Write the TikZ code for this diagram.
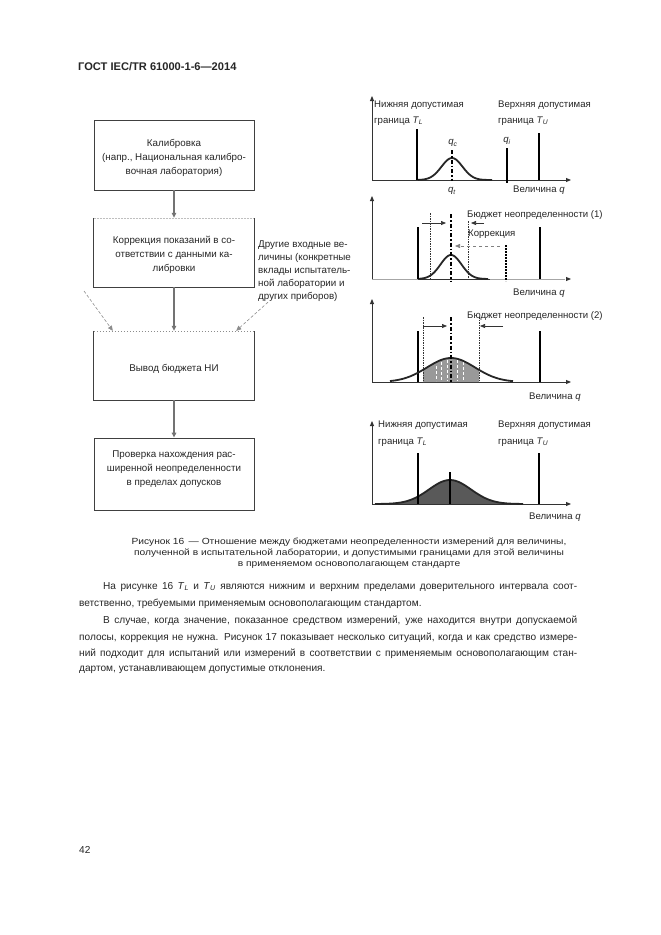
\documentclass[tikz,border=0pt]{standalone}
\usepackage{fontspec}
\setmainfont{Liberation Sans}
\newfontfamily\capfont[FakeStretch=1.15]{Liberation Sans}
\usetikzlibrary{arrows.meta}
\newcommand{\subit}[2]{\textit{#1}\textsubscript{\textit{#2}}}
\begin{document}
\begin{tikzpicture}[x=1pt,y=-1pt,
  box/.style={draw=black!75, line width=0.8pt, minimum width=160pt, inner sep=0pt},
  flowtxt/.style={font=\fontsize{9.8}{13.8}\selectfont, align=center, text=black!85, inner sep=0pt},
  sidetxt/.style={font=\fontsize{9.8}{13}\selectfont, align=left, text=black!85, inner sep=0pt, anchor=north west},
  garr/.style={draw=black!55, line width=1.3pt, -{Triangle[length=5pt,width=4.5pt]}},
  darr/.style={draw=black!45, line width=0.6pt, densely dashed, -{Triangle[length=5pt,width=4.5pt]}},
  glab/.style={font=\fontsize{9.6}{10}\selectfont, text=black!85, inner sep=0pt, anchor=west},
  axis/.style={draw=black!80, line width=0.9pt, -{Triangle[length=5pt,width=4pt]}},
  tol/.style={draw=black, line width=2pt},
  curve/.style={draw=black!85, line width=1.8pt},
  center/.style={draw=black, line width=1.6pt, dash pattern=on 4pt off 2pt on 1.5pt off 2pt},
  bound/.style={draw=black!80, line width=1pt, dash pattern=on 1.5pt off 1pt},
  barr/.style={draw=black!80, line width=0.7pt, -{Triangle[length=5pt,width=4pt]}},
  bodytxt/.style={font=\fontsize{10.1}{12}\selectfont, text=black!85, inner sep=0pt, anchor=west},
  captxt/.style={font=\capfont\fontsize{8.9}{10}\selectfont, text=black!85, inner sep=0pt}
]
\useasboundingbox[fill=white] (0,0) rectangle (661,935);

% header
\node[font=\bfseries\fontsize{11.1}{12}\selectfont, inner sep=0pt, anchor=west, text=black!85] (hdr) at (78,67) {ГОСТ IEC/TR 61000-1-6—2014};

% ---------------- flowchart ----------------
\node[box, minimum height=70pt] (b1) at (174,155) {};
\node[flowtxt] (t1) at (174,158) {Калибровка\\(напр., Национальная калибро-\\вочная лаборатория)};

\node[inner sep=0pt, minimum width=160pt, minimum height=69pt] (b2) at (174,252.5) {};
\draw[draw=black!75, line width=0.8pt] (b2.north west) -- (b2.south west) -- (b2.south east) -- (b2.north east);
\draw[draw=black!25, line width=0.5pt, densely dotted] (b2.north west) -- (b2.north east);
\node[flowtxt] (t2) at (174,255) {Коррекция показаний в со-\\ответствии с данными ка-\\либровки};

\node[inner sep=0pt, minimum width=160pt, minimum height=69pt] (b3) at (174,365.5) {};
\draw[draw=black!75, line width=0.8pt] (b3.north west) -- (b3.south west) -- (b3.south east) -- (b3.north east);
\draw[draw=black!45, line width=0.6pt, dash pattern=on 1pt off 2pt] (b3.north west) -- (b3.north east);
\node[flowtxt] (t3) at (174,369) {Вывод бюджета НИ};

\node[box, minimum height=72pt] (b4) at (174,474) {};
\node[flowtxt] (t4) at (174,469) {Проверка нахождения  рас-\\ширенной неопределенности\\в пределах допусков};

\node[sidetxt] (oth) at (258,241) {Другие входные ве-\\личины (конкретные\\вклады испытатель-\\ной лаборатории и\\других приборов)};

\draw[garr] (b1) -- (b2);
\draw[garr] (b2) -- (b3);
\draw[garr] (b3) -- (b4);
\coordinate (lin) at (84,291);
\draw[darr] (lin) -- ([xshift=19pt]b3.north west);
\draw[darr] ([xshift=10pt]oth.south west) -- ([xshift=-18pt]b3.north east);

% ---------------- graph 1 ----------------
\draw[axis] (372,180) -- (372,96);
\draw[axis] (372,180) -- (571,180);
\node[glab] (g1a) at (374,105) {Нижняя допустимая};
\node[glab] (g1b) at (374,121) {граница \subit{T}{L}};
\node[glab] (g1c) at (498,105) {Верхняя допустимая};
\node[glab] (g1d) at (498,121) {граница \subit{T}{U}};
\draw[tol] (417,129) -- (417,180);
\draw[tol] (539,133) -- (539,180);
\draw[draw=black, line width=1.6pt] (507,148) -- (507,183);
\node[glab, anchor=center] (g1qi) at (507,141) {\subit{q}{i}};
\node[glab, anchor=center] (g1qc) at (453,143) {\subit{q}{c}};
\node[glab, anchor=center] (g1qt) at (452,191) {\subit{q}{t}};
\draw[curve] plot[domain=418:492, samples=70] (\x, {180-22*exp(-((\x-452)/10.5)^2/2)});
\draw[center] (452,150) -- (452,181);
\node[glab] (g1q) at (513,190) {Величина \textit{q}};

% ---------------- graph 2 ----------------
\draw[axis] (372,279) -- (372,196);
\draw[draw=black!35, line width=0.5pt] (372,279) -- (565,279);
\draw[draw=black!80, line width=0.9pt] (418,279) -- (490,279);
\draw[draw=black!80, line width=0.9pt, -{Triangle[length=5pt,width=4pt]}] (566,279) -- (571,279);
\draw[tol] (418,227) -- (418,279);
\draw[tol] (540,227) -- (540,279);
\draw[curve] plot[domain=419:488, samples=70] (\x, {279-24*exp(-((\x-451)/10.5)^2/2)});
\draw[draw=black, line width=1.8pt, dash pattern=on 2pt off 1pt] (506,245) -- (506,281);
\draw[bound] (430,213) -- (430,279);
\draw[bound, line width=0.7pt] (468,221) -- (468,279);
\draw[center] (451,214) -- (451,281);
\draw[barr] (422,223) -- (446,223);
\draw[barr] (484,223) -- (471,223);
\node[glab] (g2a) at (467,215) {Бюджет неопределенности (1)};
\node[glab] (g2b) at (468,234) {Коррекция};
\draw[draw=black!50, line width=0.6pt, dashed, -{Triangle[length=5pt,width=4pt]}] (500,246) -- (455,246);
\node[glab] (g2q) at (513,293) {Величина \textit{q}};

% ---------------- graph 3 ----------------
\draw[axis] (372,382) -- (372,299);
\draw[axis] (372,382) -- (571,382);
\fill[black!40] (423,382) -- plot[domain=423:479, samples=50] (\x, {382-24*exp(-((\x-451)/24)^2/2)}) -- (479,382) -- cycle;
\draw[draw=white, line width=0.4pt, densely dashed] (436,366) -- (436,381) (441,362) -- (441,381) (447,360) -- (447,381) (457,360) -- (457,381) (463,362) -- (463,381);
\draw[tol] (418,331) -- (418,382);
\draw[tol] (540,331) -- (540,382);
\draw[curve] plot[domain=390:513, samples=80] (\x, {382-24*exp(-((\x-451)/24)^2/2)});
\draw[bound] (423,317) -- (423,382);
\draw[bound] (479,317) -- (479,382);
\draw[center] (451,317) -- (451,383);
\draw[barr] (423,326) -- (447,326);
\draw[barr] (503,326) -- (480,326);
\node[glab] (g3a) at (467,316) {Бюджет неопределенности (2)};
\node[glab] (g3q) at (529,397) {Величина \textit{q}};

% ---------------- graph 4 ----------------
\draw[axis] (372,504) -- (372,421);
\draw[axis] (372,504) -- (571,504);
\fill[black!65] plot[domain=375:523, samples=90] (\x, {504-24*exp(-((\x-450)/21)^2/2)}) -- cycle;
\draw[curve] plot[domain=375:523, samples=90] (\x, {504-24*exp(-((\x-450)/21)^2/2)});
\draw[tol] (418,453) -- (418,504);
\draw[tol] (539,453) -- (539,504);
\draw[draw=black, line width=2pt] (450,472) -- (450,504);
\node[glab] (g4a) at (378,425) {Нижняя допустимая};
\node[glab] (g4b) at (378,442) {граница \subit{T}{L}};
\node[glab] (g4c) at (498,425) {Верхняя допустимая};
\node[glab] (g4d) at (498,442) {граница \subit{T}{U}};
\node[glab] (g4q) at (529,517) {Величина \textit{q}};

% ---------------- caption ----------------
\node[captxt] (cap1) at (349,542) {Рисунок 16 \,— Отношение между бюджетами неопределенности измерений для величины,};
\node[captxt] (cap2) at (349,553.5) {полученной в испытательной лаборатории, и допустимыми границами для этой величины};
\node[captxt] (cap3) at (349,565) {в применяемом основополагающем стандарте};

% ---------------- body text ----------------
\node[bodytxt] (p1) at (103,587) {\makebox[474pt][s]{На рисунке 16 \subit{T}{L} и \subit{T}{U} являются нижним и верхним пределами доверительного интервала соот-}};
\node[bodytxt] (p2) at (79,604) {ветственно, требуемыми применяемым основополагающим стандартом.};
\node[bodytxt] (p3) at (103,621) {\makebox[474pt][s]{В случае, когда значение, показанное средством измерений, уже находится внутри допускаемой}};
\node[bodytxt] (p4) at (79,638) {\makebox[498pt][s]{полосы, коррекция не нужна. Рисунок 17 показывает несколько ситуаций, когда и как средство измере-}};
\node[bodytxt] (p5) at (79,654) {\makebox[498pt][s]{ний подходит для испытаний или измерений в соответствии с применяемым основополагающим стан-}};
\node[bodytxt] (p6) at (79,670) {дартом, устанавливающем допустимые отклонения.};

\node[bodytxt] (pg) at (79,850) {42};
\end{tikzpicture}
\end{document}
